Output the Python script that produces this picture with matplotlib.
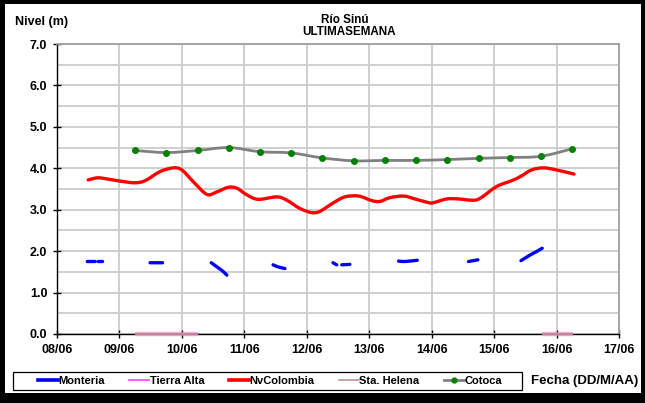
import numpy as np
import matplotlib
matplotlib.use("Agg")
import matplotlib.pyplot as plt
from matplotlib.lines import Line2D
from matplotlib.patches import Rectangle, PathPatch
from matplotlib.path import Path

plt.rcParams['font.family'] = ['Liberation Sans', 'DejaVu Sans']
plt.rcParams['font.weight'] = 'bold'

# x values are days counted from 08/06 00:00
day_labels = ["08/06", "09/06", "10/06", "11/06", "12/06",
              "13/06", "14/06", "15/06", "16/06", "17/06"]

cotoca_t = [1.25, 1.75, 2.25, 2.75, 3.25, 3.75, 4.25, 4.75,
            5.25, 5.75, 6.25, 6.75, 7.25, 7.75, 8.25]
cotoca_v = [4.43, 4.38, 4.43, 4.50, 4.40, 4.37, 4.25, 4.18,
            4.19, 4.19, 4.21, 4.24, 4.26, 4.29, 4.47]

nvcol_t = [0.50, 0.66, 0.85, 1.06, 1.25, 1.41, 1.65, 1.86, 2.00, 2.18,
           2.40, 2.56, 2.74, 2.88, 3.04, 3.22, 3.52, 3.68, 3.89, 4.08,
           4.21, 4.43, 4.61, 4.83, 5.04, 5.17, 5.33, 5.55, 5.71, 5.95,
           6.03, 6.24, 6.43, 6.64, 6.77, 7.04, 7.28, 7.42, 7.60, 7.79,
           8.00, 8.28]
nvcol_v = [3.72, 3.77, 3.73, 3.68, 3.65, 3.70, 3.92, 4.01, 3.96, 3.68,
           3.37, 3.43, 3.54, 3.52, 3.36, 3.25, 3.31, 3.23, 3.03, 2.93,
           2.96, 3.17, 3.31, 3.33, 3.22, 3.20, 3.29, 3.33, 3.27, 3.17,
           3.17, 3.26, 3.26, 3.23, 3.27, 3.56, 3.70, 3.80, 3.96, 4.01,
           3.96, 3.86]

nan = np.nan
monteria_t = [0.485, 0.61, 0.63, 0.66, 0.73, 0.75,
              1.49, 1.69, 1.71,
              2.47, 2.58, 2.66, 2.72, 2.74,
              3.46, 3.54, 3.65, 3.67,
              4.42, 4.48, 4.52, 4.56, 4.69, 4.71,
              5.47, 5.57, 5.77, 5.79,
              6.59, 6.74, 6.76,
              7.43, 7.58, 7.68, 7.77]
monteria_v = [1.75, 1.75, nan, 1.75, 1.75, nan,
              1.72, 1.72, nan,
              1.72, 1.60, 1.51, 1.42, nan,
              1.67, 1.62, 1.58, nan,
              1.72, 1.67, nan, 1.67, 1.68, nan,
              1.76, 1.75, 1.78, nan,
              1.75, 1.79, nan,
              1.77, 1.91, 1.99, 2.07]

tierra_t = [1.25, 2.26, 2.27, 7.76, 8.27]
tierra_v = [0.0, 0.0, nan, 0.0, 0.0]
helena_t = [1.25, 2.26, 2.27, 7.76, 8.27]
helena_v = [0.0, 0.0, nan, 0.0, 0.0]


def smooth_path(t, v):
    """Smoothed polyline (Catmull-Rom as cubic Bezier), split at NaN gaps."""
    t = np.asarray(t, float)
    v = np.asarray(v, float)
    verts, codes = [], []
    ok = ~np.isnan(v)
    idx = np.flatnonzero(ok)
    runs = np.split(idx, np.flatnonzero(np.diff(idx) > 1) + 1)
    for r in runs:
        if len(r) == 0:
            continue
        p = np.column_stack([t[r], v[r]])
        verts.append(p[0]); codes.append(Path.MOVETO)
        n = len(p)
        for i in range(n - 1):
            p0 = p[i - 1] if i > 0 else p[i]
            p3 = p[i + 2] if i + 2 < n else p[i + 1]
            c1 = p[i] + (p[i + 1] - p0) / 6.0
            c2 = p[i + 1] - (p3 - p[i]) / 6.0
            verts += [c1, c2, p[i + 1]]
            codes += [Path.CURVE4] * 3
    return Path(np.array(verts), codes)


W, H = 645, 403
fig = plt.figure(figsize=(W / 100, H / 100), dpi=100)
fig.patch.set_facecolor('white')

ax = fig.add_axes([57 / W, 1 - 334 / H, (619 - 57) / W, (334 - 44) / H])
ax.set_xlim(0, 9)
ax.set_ylim(0, 7)

# grid
ax.set_yticks(np.arange(0, 7.01, 1.0))
ax.set_yticks(np.arange(0.5, 7, 1.0), minor=True)
ax.set_xticks(range(10))
ax.grid(True, which='both', axis='y', color='#cccccc', lw=1.3, zorder=0)
ax.grid(True, which='major', axis='x', color='#cccccc', lw=1.3, zorder=0)
ax.set_axisbelow(True)
ax.tick_params(axis='y', which='minor', length=0)
ax.tick_params(axis='both', which='major', direction='inout', length=6,
               width=1, labelsize=9, pad=4)
ax.set_yticklabels([f"{v:.1f}" for v in np.arange(0, 7.01, 1.0)],
                   fontweight='bold')
ax.set_xticklabels(day_labels, fontweight='bold')
for s in ('top', 'right'):
    ax.spines[s].set_color('#a0a0a0')
    ax.spines[s].set_linewidth(1.3)
for s in ('left', 'bottom'):
    ax.spines[s].set_color('black')
    ax.spines[s].set_linewidth(1.0)

# series at zero level
ax.plot(tierra_t, tierra_v, color='#e890d8', lw=3.2, alpha=0.7, zorder=3,
        solid_capstyle='butt', clip_on=False)
ax.plot(helena_t, helena_v, color='#c08890', lw=1.4, zorder=3,
        solid_capstyle='butt', clip_on=False)

# smoothed level series
ax.add_patch(PathPatch(smooth_path(nvcol_t, nvcol_v), fill=False,
                       edgecolor='#ff0000', lw=2.4, zorder=4,
                       capstyle='round', joinstyle='round'))
ax.add_patch(PathPatch(smooth_path(monteria_t, monteria_v), fill=False,
                       edgecolor='#0000ff', lw=2.4, zorder=4,
                       capstyle='round', joinstyle='round'))
ax.add_patch(PathPatch(smooth_path(cotoca_t, cotoca_v), fill=False,
                       edgecolor='#808080', lw=2.0, zorder=5,
                       capstyle='round', joinstyle='round'))
ax.plot(cotoca_t, cotoca_v, ls='none', marker='o', ms=4.0,
        mfc='#008000', mec='#008000', zorder=6)

# texts
fig.text(345 / W, 1 - 20 / H, "Río Sinú", ha='center', va='center',
         fontsize=8.4, fontweight='bold')
fig.text(349 / W, 1 - 32 / H, "ULTIMASEMANA", ha='center', va='center',
         fontsize=8.4, fontweight='bold')
fig.text(15 / W, 1 - 22 / H, "Nivel (m)", ha='left', va='center',
         fontsize=9, fontweight='bold')
fig.text(531 / W, 1 - 381 / H, "Fecha (DD/M/AA)", ha='left', va='center',
         fontsize=9.5, fontweight='bold')

# legend
handles = [
    Line2D([], [], color='#0000ff', lw=2.6),
    Line2D([], [], color='#ff40ff', lw=1.2),
    Line2D([], [], color='#ff0000', lw=2.6),
    Line2D([], [], color='#c09090', lw=1.2),
    Line2D([], [], color='#808080', lw=2.0, marker='o', ms=3.5,
           mfc='#008000', mec='#008000'),
]
labels = ["Monteria", "Tierra Alta", "NvColombia", "Sta. Helena", "Cotoca"]
leg = fig.legend(handles, labels, ncol=5, loc='center',
                 bbox_to_anchor=(270 / W, 1 - 381 / H),
                 frameon=False, prop={'size': 8, 'weight': 'bold'},
                 handlelength=1.8, handletextpad=0.05, columnspacing=2.2,
                 borderpad=0.2, borderaxespad=0)
fig.add_artist(Rectangle((13 / W, 1 - 390 / H), (522 - 13) / W, 18 / H,
                         transform=fig.transFigure, fill=False,
                         edgecolor='black', lw=0.9))

# outer black frame
for (x0, y0, w, h) in [(0, 0, 5, H), (W - 4, 0, 4, H),
                       (0, 0, W, 4), (0, H - 10, W, 10)]:
    fig.add_artist(Rectangle((x0 / W, 1 - (y0 + h) / H), w / W, h / H,
                             transform=fig.transFigure, color='black',
                             lw=0, zorder=10))

fig.savefig("out.png", dpi=100)
